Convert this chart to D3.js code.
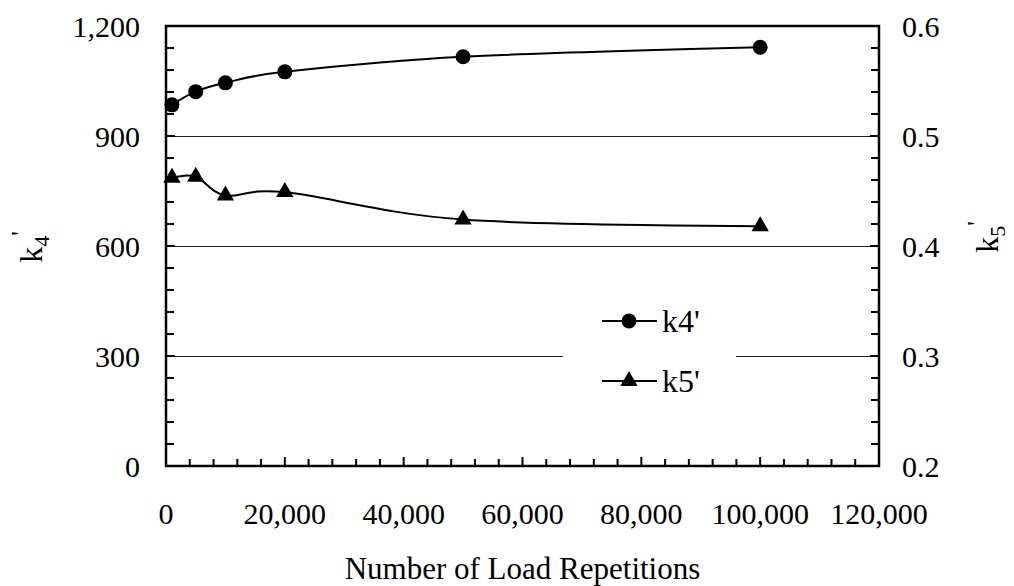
<!DOCTYPE html>
<html>
<head>
<meta charset="utf-8">
<script src="https://cdn.jsdelivr.net/npm/d3@7"></script>
<style>
  html, body { margin: 0; padding: 0; background: #fff; }
  svg text { font-family: "Liberation Serif", "Times New Roman", "DejaVu Serif", serif; }
</style>
</head>
<body>
<svg id="chart" width="1014" height="586"></svg>
<script>
// Load repetitions at which k4' and k5' were evaluated
const repetitions = [1000, 5000, 10000, 20000, 50000, 100000];
const k4Values = [985, 1021, 1045, 1075, 1116, 1142];
const k5Values = [0.462, 0.463, 0.446, 0.449, 0.424, 0.418];

const xTicks = [0, 20000, 40000, 60000, 80000, 100000, 120000];
const leftTicks = [0, 300, 600, 900, 1200];
const rightTicks = [0.2, 0.3, 0.4, 0.5, 0.6];

const serif = "'Liberation Serif', 'Times New Roman', 'DejaVu Serif', serif";
const svg = d3.select("#chart");
const frame = { left: 166, right: 879, top: 26, bottom: 466 };

const x = d3.scaleLinear().domain([0, 120000]).range([frame.left, frame.right]);
const yL = d3.scaleLinear().domain([0, 1200]).range([frame.bottom, frame.top]);
const yR = d3.scaleLinear().domain([0.2, 0.6]).range([frame.bottom, frame.top]);

const fmt = d3.format(",");

// horizontal gridlines on major left ticks
svg.append("g").selectAll("line")
  .data(leftTicks.filter(d => d > 0 && d < 1200))
  .join("line")
  .attr("x1", frame.left).attr("x2", frame.right)
  .attr("y1", d => yL(d) + 0.5).attr("y2", d => yL(d) + 0.5)
  .attr("stroke", "#222").attr("stroke-width", 1)
  .attr("shape-rendering", "crispEdges");

// legend background masks the gridline behind it
svg.append("rect")
  .attr("x", 563).attr("y", 298).attr("width", 173).attr("height", 110)
  .attr("fill", "#fff");

// minor + major tick marks (pointing into the plot)
const ticks = svg.append("g").attr("stroke", "#000").attr("stroke-width", 2);
d3.range(0, 120001, 4000).forEach(v => {
  const len = v % 20000 === 0 ? 9 : 7;
  ticks.append("line").attr("x1", x(v)).attr("x2", x(v))
    .attr("y1", frame.bottom).attr("y2", frame.bottom - len);
});
d3.range(0, 1201, 60).forEach(v => {
  const len = v % 300 === 0 ? 9 : 8;
  ticks.append("line").attr("x1", frame.left).attr("x2", frame.left + len)
    .attr("y1", yL(v)).attr("y2", yL(v));
});
d3.range(0, 21, 1).map(i => 0.2 + i * 0.02).forEach((v, i) => {
  const len = i % 5 === 0 ? 9 : 8;
  ticks.append("line").attr("x1", frame.right).attr("x2", frame.right - len)
    .attr("y1", yR(v)).attr("y2", yR(v));
});

// plot frame
svg.append("rect")
  .attr("x", frame.left).attr("y", frame.top)
  .attr("width", frame.right - frame.left).attr("height", frame.bottom - frame.top)
  .attr("fill", "none").attr("stroke", "#000").attr("stroke-width", 2.5);

// tick labels
const tickFont = 30;
svg.append("g").selectAll("text").data(xTicks).join("text")
  .attr("x", d => x(d)).attr("y", 524)
  .attr("text-anchor", "middle").attr("font-size", tickFont)
  .attr("font-family", serif)
  .text(d => fmt(d));
svg.append("g").selectAll("text").data(leftTicks).join("text")
  .attr("x", 140).attr("y", d => yL(d)).attr("dy", "0.35em")
  .attr("text-anchor", "end").attr("font-size", tickFont)
  .attr("font-family", serif)
  .text(d => fmt(d));
svg.append("g").selectAll("text").data(rightTicks).join("text")
  .attr("x", 902).attr("y", d => yR(d)).attr("dy", "0.35em")
  .attr("text-anchor", "start").attr("font-size", tickFont)
  .attr("font-family", serif)
  .text(d => d.toFixed(1));

// axis titles
svg.append("text")
  .attr("x", (frame.left + frame.right) / 2).attr("y", 579)
  .attr("text-anchor", "middle").attr("font-size", 31)
  .attr("font-family", serif)
  .text("Number of Load Repetitions");

function kLabel(cx, cy, sub) {
  const t = svg.append("text")
    .attr("transform", `translate(${cx},${cy}) rotate(-90)`)
    .attr("text-anchor", "middle").attr("font-size", 32)
    .attr("font-family", serif);
  t.append("tspan").text("k");
  t.append("tspan").attr("font-size", 22).attr("dy", 7).text(sub);
  t.append("tspan").attr("font-size", 26).attr("dy", -20).text("'");
}
kLabel(42, 247, "4");
kLabel(998, 237, "5");

// series
const line = (yScale, vals) => d3.line()
  .x((d, i) => x(repetitions[i]))
  .y(d => yScale(d))
  .curve(d3.curveCatmullRom.alpha(0))(vals);

svg.append("path").attr("d", line(yL, k4Values))
  .attr("fill", "none").attr("stroke", "#000").attr("stroke-width", 2);
svg.append("path").attr("d", line(yR, k5Values))
  .attr("fill", "none").attr("stroke", "#000").attr("stroke-width", 2);

const circleSym = d3.symbol().type(d3.symbolCircle).size(Math.PI * 7.5 * 7.5);
const triSym = d3.symbol().type(d3.symbolTriangle).size(130);

svg.append("g").selectAll("path").data(k4Values).join("path")
  .attr("d", circleSym)
  .attr("transform", (d, i) => `translate(${x(repetitions[i])},${yL(d)})`)
  .attr("fill", "#000");
svg.append("g").selectAll("path").data(k5Values).join("path")
  .attr("d", triSym)
  .attr("transform", (d, i) => `translate(${x(repetitions[i])},${yR(d)})`)
  .attr("fill", "#000");

// legend
const legend = svg.append("g");
[
  { label: "k4'", sym: circleSym, y: 321, base: 332 },
  { label: "k5'", sym: triSym, y: 381, base: 392 }
].forEach(item => {
  legend.append("line").attr("x1", 602).attr("x2", 657)
    .attr("y1", item.y).attr("y2", item.y)
    .attr("stroke", "#000").attr("stroke-width", 2);
  legend.append("path").attr("d", item.sym)
    .attr("transform", `translate(629,${item.y})`).attr("fill", "#000");
  legend.append("text").attr("x", 662).attr("y", item.base)
    .attr("font-size", 32).attr("font-family", serif).text(item.label);
});
</script>
</body>
</html>
